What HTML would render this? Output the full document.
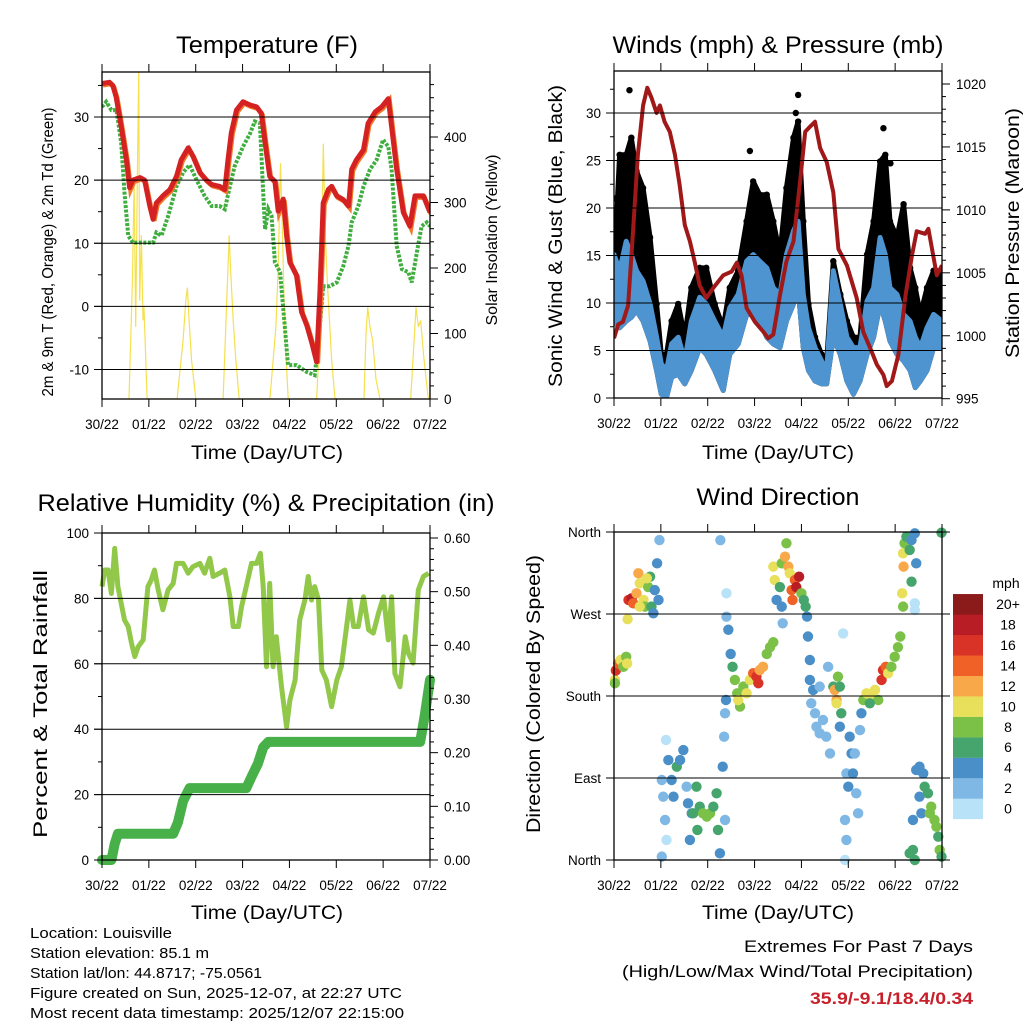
<!DOCTYPE html>
<html><head><meta charset="utf-8"><style>
html,body{margin:0;padding:0;background:#fff;}
svg text{font-family:"Liberation Sans",Arial,sans-serif;fill:#000;}
</style></head><body>
<svg id="chart" xmlns="http://www.w3.org/2000/svg" width="1024" height="1024" viewBox="0 0 1024 1024">
<rect x="0" y="0" width="1024" height="1024" fill="#fff"/>
<text x="267" y="53" font-size="24" text-anchor="middle" textLength="182" lengthAdjust="spacingAndGlyphs">Temperature (F)</text>
<text x="778" y="53" font-size="24" text-anchor="middle" textLength="331" lengthAdjust="spacingAndGlyphs">Winds (mph) &amp; Pressure (mb)</text>
<text x="266" y="511" font-size="24" text-anchor="middle" textLength="457" lengthAdjust="spacingAndGlyphs">Relative Humidity (%) &amp; Precipitation (in)</text>
<text x="778" y="505" font-size="24" text-anchor="middle" textLength="163" lengthAdjust="spacingAndGlyphs">Wind Direction</text>
<text x="267" y="459" font-size="19" text-anchor="middle" textLength="152" lengthAdjust="spacingAndGlyphs">Time (Day/UTC)</text>
<text x="778" y="459" font-size="19" text-anchor="middle" textLength="152" lengthAdjust="spacingAndGlyphs">Time (Day/UTC)</text>
<text x="267" y="919" font-size="19" text-anchor="middle" textLength="152" lengthAdjust="spacingAndGlyphs">Time (Day/UTC)</text>
<text x="778" y="919" font-size="19" text-anchor="middle" textLength="152" lengthAdjust="spacingAndGlyphs">Time (Day/UTC)</text>
<text transform="translate(53,252) rotate(-90)" font-size="16" text-anchor="middle" textLength="289" lengthAdjust="spacingAndGlyphs">2m &amp; 9m T (Red, Orange) &amp; 2m Td (Green)</text>
<text transform="translate(497,240) rotate(-90)" font-size="16" text-anchor="middle" textLength="171" lengthAdjust="spacingAndGlyphs">Solar Insolation (Yellow)</text>
<text transform="translate(562,236) rotate(-90)" font-size="19" text-anchor="middle" textLength="302" lengthAdjust="spacingAndGlyphs">Sonic Wind &amp; Gust (Blue, Black)</text>
<text transform="translate(1019,233) rotate(-90)" font-size="19" text-anchor="middle" textLength="250" lengthAdjust="spacingAndGlyphs">Station Pressure (Maroon)</text>
<text transform="translate(47,704) rotate(-90)" font-size="19" text-anchor="middle" textLength="268" lengthAdjust="spacingAndGlyphs">Percent &amp; Total Rainfall</text>
<text transform="translate(540,694) rotate(-90)" font-size="19" text-anchor="middle" textLength="278" lengthAdjust="spacingAndGlyphs">Direction (Colored By Speed)</text>
<g font-size="15">
<text x="30" y="938" textLength="142" lengthAdjust="spacingAndGlyphs">Location: Louisville</text>
<text x="30" y="958" textLength="179" lengthAdjust="spacingAndGlyphs">Station elevation: 85.1 m</text>
<text x="30" y="978" textLength="232" lengthAdjust="spacingAndGlyphs">Station lat/lon: 44.8717; -75.0561</text>
<text x="30" y="998" textLength="372" lengthAdjust="spacingAndGlyphs">Figure created on Sun, 2025-12-07, at 22:27 UTC</text>
<text x="30" y="1018" textLength="374" lengthAdjust="spacingAndGlyphs">Most recent data timestamp: 2025/12/07 22:15:00</text>
</g>
<text x="973" y="952" font-size="17" text-anchor="end" textLength="229" lengthAdjust="spacingAndGlyphs">Extremes For Past 7 Days</text>
<text x="973" y="977" font-size="17" text-anchor="end" textLength="351" lengthAdjust="spacingAndGlyphs">(High/Low/Max Wind/Total Precipitation)</text>
<text x="973" y="1004" font-size="17" font-weight="bold" text-anchor="end" textLength="163" lengthAdjust="spacingAndGlyphs" style="fill:#c8202a">35.9/-9.1/18.4/0.34</text>
</svg>
<script>
// ===== Data =====
const dayLabels = ["30/22","01/22","02/22","03/22","04/22","05/22","06/22","07/22"];
const tempT = [0,.16,.23,.30,.41,.52,.59,.66,.81,.91,1.02,1.09,1.16,1.30,1.45,1.59,1.69,1.84,1.94,2.09,2.23,2.34,2.51,2.62,2.69,2.76,2.87,3.01,3.16,3.30,3.40,3.48,3.58,3.69,3.76,3.87,3.94,4.01,4.15,4.26,4.37,4.47,4.58,4.65,4.72,4.83,4.90,5.01,5.15,5.26,5.33,5.43,5.58,5.68,5.83,5.97,6.11,6.18,6.29,6.43,6.57,6.68,6.86,7.0];
const temp2m = [35.3,35.5,35,33.2,28.5,23.2,18.8,20,20.4,20,15.9,13.8,16.4,17.5,18.5,20.6,23.2,25.1,23.8,21.2,20,19.3,19,18.5,23.2,27.5,31.1,32.4,31.9,31.6,30.6,25.9,20.6,19.8,15.1,17,11.2,7,4.9,-0.9,-3,-5.6,-8.8,2.2,16.4,18.5,19,17.5,16.9,15.9,21.7,23.2,24.8,29,30.8,31.6,32.9,28.5,21.7,14.9,12.7,17.5,17.5,14.9];
const dewT = [0,.09,.20,.31,.41,.48,.56,.66,.88,1.09,1.16,1.27,1.41,1.59,1.73,1.87,2.02,2.19,2.34,2.51,2.62,2.73,2.83,3.01,3.16,3.26,3.37,3.44,3.48,3.55,3.62,3.69,3.80,3.90,3.97,4.15,4.37,4.54,4.62,4.72,4.86,5.01,5.15,5.26,5.33,5.47,5.58,5.72,5.86,6.00,6.11,6.18,6.29,6.40,6.54,6.61,6.72,6.82,6.93,7.0];
const dewVals = [31.6,32.4,31.1,31.1,25.9,18,11.2,10.1,10.1,10.1,11.7,11.2,14.3,19,21.2,22.4,20,17.5,15.9,15.9,15.4,19,22.2,25.3,27.4,29.3,29,18,12.2,15.4,14.3,7,5.4,-3,-9.3,-9.3,-10.4,-10.9,-5.6,3.2,3.2,3.8,6.4,9.6,13.3,15.9,19,21.7,23.2,26.4,25.3,21.7,9.6,5.9,5.4,3.8,8.6,12.7,13.3,12.7];
const solarT = [.577,.648,.684,.719,.755,.783,.805,.840,.876,.897,.962, 1.603,1.731,1.788,1.823,1.859,1.909,2.001, 2.585,2.657,2.714,2.742,2.799,2.856,2.927, 3.583,3.711,3.761,3.810,3.853,3.903,3.974, 4.580,4.665,4.722,4.765,4.808,4.900,4.972, 5.591,5.634,5.670,5.719,5.776,5.848,5.933, 6.588,6.702,6.752,6.802,6.859,6.916,6.966];
const solarVals = [0,180,330,110,345,500,150,250,120,140,0, 0,90,150,170,120,60,0, 0,140,250,200,120,60,0, 0,110,200,360,250,100,0, 0,120,390,250,180,60,0, 0,100,140,110,90,30,0, 0,140,110,120,70,30,0];
const windT = [0,.12,.26,.37,.48,.62,.77,.91,1.01,1.12,1.23,1.37,1.51,1.65,1.83,1.97,2.15,2.33,2.47,2.65,2.83,2.97,3.11,3.26,3.40,3.54,3.68,3.83,3.93,4.04,4.15,4.29,4.43,4.54,4.68,4.83,4.97,5.11,5.25,5.40,5.54,5.68,5.79,5.89,6.04,6.18,6.32,6.43,6.54,6.68,6.82,7.0];
const gustVals = [13.4,25.6,25.6,27.4,23.9,22.1,16.9,9.9,4.6,4.6,8.1,9.9,6.4,11.6,13.7,13.7,9.9,7.4,11.6,13.4,18.6,22.8,21.4,21.4,18.6,15.1,22.1,27.4,29.1,18.6,9.9,6.4,4.6,3.9,14.4,10.9,8.1,6.4,6.4,15.1,18.6,24.9,25.6,18.6,16.9,20.4,13.7,11.6,8.8,11.6,13.4,13.4];
const speedHi = [15.1,13.4,16.5,15.1,13.4,12.3,9.9,6.4,3.6,2.9,5.7,6.4,3.9,8.1,10.6,9.9,8.1,6.4,9.5,10.9,14.4,15.1,14.4,13.7,11.6,10.9,15.1,17.6,18.6,10.9,7.4,5.3,3.9,2.9,13.4,9.9,6.4,5.3,5.3,10.2,11.6,16.9,15.1,11.6,10.9,8.8,8.1,6.4,5.3,7.4,8.8,8.1];
const speedLo = [8.1,7.4,8.1,8.5,9.2,8.1,6.0,2.9,0.4,0.1,2.2,2.5,1.5,2.9,5.3,4.6,2.9,0.8,4.6,5.7,8.8,8.8,8.1,6.4,5.7,5.3,8.1,9.9,11.6,5.3,2.9,1.8,1.5,1.5,6.4,4.6,1.8,0.4,1.8,4.6,6.4,9.9,8.1,6.0,4.6,3.9,2.9,1.1,1.8,2.9,5.3,5.3];
const gustPeakT = [0.02,0.15,0.33,0.45,1.9,2.9,3.93,3.88,5.75,5.9,6.16];
const gustPeakVals = [21,24,32.4,22,13,26,31.9,30,28.4,24.7,17];
const presT = [0,.09,.19,.30,.41,.51,.62,.71,.80,.91,.98,1.08,1.19,1.30,1.40,1.51,1.62,1.72,1.83,1.97,2.12,2.33,2.51,2.62,2.72,2.83,3.01,3.19,3.29,3.40,3.54,3.68,3.83,3.97,4.08,4.18,4.29,4.40,4.54,4.68,4.79,4.97,5.18,5.32,5.47,5.61,5.75,5.82,5.93,6.07,6.22,6.36,6.46,6.64,6.71,6.82,6.89,7.0];
const presVals = [999.8,1000.9,1001.1,1002.4,1008.5,1014.4,1018.3,1019.7,1018.9,1017.7,1018.3,1017,1016.2,1014.4,1012,1008.8,1007.5,1005.9,1004,1003,1003.8,1004.8,1005.1,1005.8,1004.8,1002.2,1001.1,1000.3,999.8,1000.1,1003.2,1005.9,1007.5,1012.2,1016.2,1016.6,1017,1014.9,1013.8,1011.4,1006.9,1005.6,1003,1000.3,999,997.7,996.9,996,996.4,998.5,1003.2,1006.4,1008.3,1008.1,1008.5,1006.2,1004.8,1005.6];
const rhT = [0,.06,.13,.20,.27,.34,.41,.48,.56,.63,.70,.77,.88,.98,1.05,1.12,1.20,1.30,1.41,1.52,1.59,1.73,1.84,1.94,2.09,2.19,2.30,2.37,2.51,2.62,2.73,2.80,2.91,2.98,3.08,3.19,3.30,3.38,3.44,3.51,3.58,3.65,3.72,3.83,3.94,4.01,4.12,4.22,4.33,4.40,4.47,4.54,4.62,4.69,4.79,4.90,5.01,5.11,5.22,5.29,5.37,5.47,5.58,5.69,5.79,5.90,6.01,6.11,6.18,6.25,6.36,6.47,6.54,6.64,6.75,6.86,6.97];
const rhVals = [83.6,88.7,88.7,81.5,95.3,83.6,78.5,73.4,71.4,66.3,62.2,65.2,67.3,83.6,85.6,88.7,82.6,76.5,82.6,84.6,90.7,90.7,87.7,89.7,90.7,87.7,92.3,86.7,87.7,88.7,80.5,71.4,71.4,77.5,83.7,90.7,90.7,93.8,83.6,59.1,84.6,59.1,68.3,53,40.7,48.9,55,73.4,79.5,86.7,79.5,83.6,79.5,58.1,55,46.9,55,59.1,71.4,79.5,71.4,71.4,80.5,70.4,69.4,75.5,80.5,67.3,80.5,57,53,68.3,63.2,60.2,82.6,86.7,87.7];
const precipT = [0,.20,.27,.34,1.52,1.62,1.73,1.87,3.08,3.19,3.33,3.44,3.55,6.79,6.89,7.0];
const precipVals = [0,0,0.03,0.049,0.049,0.07,0.11,0.134,0.134,0.155,0.18,0.21,0.220,0.220,0.27,0.336];
const dirT = [.02,.04,.09,.14,.20,.26,.28,.02,
 .31,.38,.41,.48,.52,.55,.63,.66,.73,.77,.80,.84,.87,.92,.97,.95,.29,.55,.70,
 1.02,1.05,1.09,1.12,1.16,1.23,1.27,1.34,1.41,1.48,1.11,1.02,
 1.58,1.66,1.69,1.76,1.83,1.90,1.98,2.05,2.12,2.19,2.22,1.55,1.62,1.78,
 2.27,2.26,2.32,2.35,2.37,2.39,2.40,2.40,2.37,
 2.44,2.49,2.53,2.58,2.63,2.69,2.76,2.83,2.90,2.97,3.04,3.11,3.18,3.26,3.33,3.40,2.65,3.08,
 3.40,3.43,3.47,3.54,3.58,3.65,3.68,3.72,3.75,3.79,3.86,3.89,3.95,4.00,4.05,4.09,4.12,3.60,3.58,3.81,
 4.14,4.18,4.18,4.21,4.29,4.32,4.39,4.46,4.53,4.61,4.25,4.39,4.57,4.68,
 4.71,4.75,4.78,4.82,4.85,4.82,4.75,
 4.96,5.00,5.03,5.07,5.10,5.14,5.17,5.21,4.93,4.96,4.93,5.25,4.89,
 5.32,5.39,5.49,5.57,5.64,5.71,5.74,5.80,5.85,5.92,5.99,6.06,6.11,5.28,5.46,
 6.17,6.20,6.24,6.31,6.35,6.42,6.45,6.18,6.15,6.17,6.35,6.42,6.42,
 6.31,6.38,6.42,6.45,6.52,6.56,6.60,6.63,6.70,6.77,6.84,6.88,6.92,6.95,6.99,6.52,6.38,6.74,6.99];
const dirDeg = [197.6,208,215.7,219.5,212,223,215.7,194,
 285.4,287.2,281.7,292.7,314.7,303.7,285.4,278.1,299.6,311,278.1,270.8,296.2,325.6,351.2,285.4,264.3,278.1,309.2,
 87.8,69.5,43.9,22,109.7,87.8,69.5,102.4,109.7,120.7,131.7,3.7,
 62.2,51.2,51.2,80.5,58.5,51.2,47.6,51.2,58.5,73.2,33,80.5,22,33,
 351,7.3,102.4,135.3,44,175.6,292.7,267,161,
 252.7,226.2,212,197.6,183,168.4,190.3,183,197.6,205,201.2,208.4,212,226.2,233.6,239,175.6,194,
 322,307.3,285.4,299.6,325.6,332.9,347.6,322,314.7,296.2,307.3,299.6,311,292.7,285.4,278.1,267.2,259.8,278.1,285.4,
 245.3,219.5,197.6,172,161,146.3,139,153.7,135.3,117,186.7,190.3,212,190.3,
 186.7,175.6,201.2,190.3,161,146.3,172,
 95,80.5,135.3,117,95,117,73.2,51.2,44,22,0,142.6,248.7,
 175.6,183,179.4,186.7,175.6,197.6,208.4,212,205,212,223,233.6,245.3,161,172,
 336.6,347.6,354.9,340.3,351.2,358.5,325.6,322,292.7,278.1,305.5,281.7,274.4,
 7.3,11,0,98.8,69.5,51.2,95,80.5,73.2,58.5,44,36.6,25.6,11,3.7,102.4,44,51.2,359.2];
const dirSpd = [10,16,14,10,8,8,10,8,
 16,18,14,12,12,10,10,8,8,6,6,4,4,4,2,4,10,10,10,
 2,2,2,0,4,4,4,6,4,4,0,2,
 4,4,6,6,6,8,8,8,6,6,6,2,4,6,
 2,4,4,2,2,4,0,2,2,
 4,4,6,8,8,8,8,10,10,14,16,12,12,8,8,8,10,16,
 10,10,4,6,8,12,8,12,10,14,14,18,18,8,6,6,4,2,4,14,
 4,4,4,2,2,2,2,2,2,2,4,2,2,6,
 12,12,8,6,6,4,10,
 2,4,4,4,4,2,2,2,2,2,0,2,0,
 8,10,10,10,8,16,16,14,10,8,8,8,8,4,6,
 10,8,6,6,4,4,4,12,10,8,6,0,0,
 6,6,6,4,4,4,4,6,6,8,8,8,6,8,6,4,4,8,6];
const spdColors = ["#b8e2f7","#7fb8e4","#4a8fc8","#46a56d","#7bc148","#e8e05a","#f8a848","#f06128","#d93328","#b81c24","#8b1a1a"];
const cbarLabels = ["0","2","4","6","8","10","12","14","16","18","20+"];

// ===== Helpers =====
const NS = "http://www.w3.org/2000/svg";
const svg = document.getElementById('chart');
function mk(tag, attrs, name, parent){
  const el = document.createElementNS(NS, tag);
  for (const k in attrs) el.setAttribute(k, attrs[k]);
  
  
  (parent || svg).appendChild(el);
  return el;
}
function scale(d0,d1,r0,r1){ return v => r0 + (v-d0)/(d1-d0)*(r1-r0); }
function path(xs, ys, fx, fy){ return xs.map((t,i)=> (i?'L':'M') + fx(t).toFixed(1) + ',' + fy(ys[i]).toFixed(1)).join(''); }

function panel(p){
  const g = mk('g', {}, p.name + '-axes');
  p.grid.forEach(v => {
    const y = p.yl(v);
    mk('line', {x1:p.x0-8, x2:p.x1 + (p.gridRight||0), y1:y, y2:y, stroke:'#000', 'stroke-width':1}, p.name+'-gridline', g);
  });
  mk('rect', {x:p.x0, y:p.y0, width:p.x1-p.x0, height:p.y1-p.y0, fill:'none', stroke:'#000', 'stroke-width':1.3}, p.name+'-frame', g);
  const fx = scale(0,7,p.x0,p.x1);
  dayLabels.forEach((lab,i) => {
    const x = fx(i);
    mk('line', {x1:x, x2:x, y1:p.y1, y2:p.y1+8, stroke:'#000','stroke-width':1}, p.name+'-x-tick', g);
    mk('line', {x1:x, x2:x, y1:p.y0, y2:p.y0-8, stroke:'#000','stroke-width':1}, p.name+'-top-tick', g);
    const t = mk('text', {x:x, y:p.y1+30, 'font-size':13.5, 'text-anchor':'middle'}, p.name+'-x-tick-label', g);
    t.textContent = lab;
  });
  p.lMajor.forEach(v => {
    const y = p.yl(v);
    mk('line', {x1:p.x0-8, x2:p.x0, y1:y, y2:y, stroke:'#000','stroke-width':1}, p.name+'-y-tick', g);
    const t = mk('text', {x:p.x0-13, y:y+5, 'font-size':13.5, 'text-anchor':'end'}, p.name+'-y-tick-label', g);
    t.textContent = p.lFmt ? p.lFmt(v) : v;
  });
  (p.lMinor||[]).forEach(v => {
    const y = p.yl(v);
    mk('line', {x1:p.x0-4, x2:p.x0, y1:y, y2:y, stroke:'#000','stroke-width':1}, p.name+'-y-minor-tick', g);
  });
  if (p.yr) {
    p.rMajor.forEach(v => {
      const y = p.yr(v);
      mk('line', {x1:p.x1, x2:p.x1+8, y1:y, y2:y, stroke:'#000','stroke-width':1}, p.name+'-right-tick', g);
      const t = mk('text', {x:p.x1+14, y:y+5, 'font-size':13.5, 'text-anchor':'start'}, p.name+'-right-tick-label', g);
      t.textContent = p.rFmt ? p.rFmt(v) : v;
    });
    (p.rMinor||[]).forEach(v => {
      const y = p.yr(v);
      mk('line', {x1:p.x1, x2:p.x1+4, y1:y, y2:y, stroke:'#000','stroke-width':1}, p.name+'-right-minor-tick', g);
    });
  }
  return fx;
}
function range(a,b,s){ const r=[]; for(let v=a; v<=b+1e-9; v+=s) r.push(+v.toFixed(4)); return r; }

// ===== Temperature panel =====
(function(){
  const x0=102,x1=430,y0=72,y1=399;
  const yl = scale(-10,30,369.5,117);
  const yr = scale(0,400,399,137);
  const fx = scale(0,7,x0,x1);
  const clip = mk('clipPath', {id:'clipT'}, 'temp-clip');
  mk('rect', {x:x0,y:y0,width:x1-x0,height:y1-y0}, 'temp-clip-rect', clip);
  const g = mk('g', {'clip-path':'url(#clipT)'}, 'temp-series');
  mk('path', {d:path(solarT, solarVals, fx, yr), fill:'none', stroke:'#f5e050','stroke-width':1.2}, 'solar-line', g);
  mk('path', {d:path(dewT, dewVals, fx, yl), fill:'none', stroke:'#3fae3f','stroke-width':4,'stroke-dasharray':'3 1.5'}, 'dewpoint-line', g);
  mk('path', {d:path(tempT, temp2m, t=>fx(t)+1, v=>yl(v)+1.5), fill:'none', stroke:'#f2782a','stroke-width':5}, 'temp-9m-line', g);
  mk('path', {d:path(tempT, temp2m, fx, yl), fill:'none', stroke:'#d42222','stroke-width':5,'stroke-linejoin':'round'}, 'temp-2m-line', g);
  panel({name:'temp', x0,x1,y0,y1, yl, yr, grid:[-10,0,10,20,30], lMajor:[-10,0,10,20,30], lMinor:[-5,5,15,25,35],
    rMajor:[0,100,200,300,400], rMinor:range(20,480,20).filter(v=>v%100)});
})();

// ===== Winds panel =====
(function(){
  const x0=614,x1=942,y0=71,y1=398;
  const yl = scale(0,30,398,113);
  const yr = scale(995,1020,398.7,84);
  const fx = scale(0,7,x0,x1);
  const clip = mk('clipPath', {id:'clipW'}, 'winds-clip');
  mk('rect', {x:x0,y:y0,width:x1-x0,height:y1-y0}, 'winds-clip-rect', clip);
  const g = mk('g', {'clip-path':'url(#clipW)'}, 'winds-series');
  const band = (hi, lo) => path(windT, hi, fx, yl) + path(windT.slice().reverse(), lo.slice().reverse(), fx, yl).replace('M','L') + 'Z';
  mk('path', {d:band(gustVals, speedLo), fill:'#000', stroke:'#000','stroke-width':5,'stroke-linejoin':'round'}, 'gust-scatter-band', g);
  windT.forEach((t,i) => {
    mk('circle', {cx:fx(t), cy:yl(gustVals[i]), r:3.2, fill:'#000'}, 'gust-point', g);
  });
  gustPeakT.forEach((t,i) => {
    mk('circle', {cx:fx(t), cy:yl(gustPeakVals[i]), r:3.2, fill:'#000'}, 'gust-peak-point', g);
  });
  mk('path', {d:band(speedHi, speedLo), fill:'#4d94d0', stroke:'#4d94d0','stroke-width':5,'stroke-linejoin':'round'}, 'wind-speed-band', g);
  mk('path', {d:path(presT, presVals, fx, yr), fill:'none', stroke:'#a01818','stroke-width':4,'stroke-linejoin':'round'}, 'pressure-line', g);
  panel({name:'winds', x0,x1,y0,y1, yl, yr, grid:[5,10,15,20,25,30], lMajor:[0,5,10,15,20,25,30], lMinor:range(2.5,32.5,5),
    rMajor:[995,1000,1005,1010,1015,1020], rMinor:range(996,1020,1).filter(v=>v%5)});
})();

// ===== Humidity panel =====
(function(){
  const x0=102,x1=430,y0=533,y1=860;
  const yl = scale(0,100,860,533);
  const yr = scale(0,0.6,860,538);
  const fx = scale(0,7,x0,x1);
  const clip = mk('clipPath', {id:'clipR'}, 'humidity-clip');
  mk('rect', {x:x0-6,y:y0,width:x1-x0+12,height:y1-y0+6}, 'humidity-clip-rect', clip);
  const g = mk('g', {'clip-path':'url(#clipR)'}, 'humidity-series');
  mk('path', {d:path(rhT, rhVals, fx, yl), fill:'none', stroke:'#92c84a','stroke-width':5,'stroke-linejoin':'round'}, 'humidity-line', g);
  mk('path', {d:path(precipT, precipVals, fx, yr), fill:'none', stroke:'#48b048','stroke-width':10,'stroke-linejoin':'round','stroke-linecap':'round'}, 'precipitation-line', g);
  panel({name:'humidity', x0,x1,y0,y1, yl, yr, grid:[20,40,60,80], lMajor:[0,20,40,60,80,100], lMinor:[10,30,50,70,90],
    rMajor:[0,0.1,0.2,0.3,0.4,0.5,0.6], rFmt:v=>v.toFixed(2), rMinor:range(0.02,0.58,0.02).filter(v=>Math.round(v*100)%10)});
})();

// ===== Wind direction panel =====
(function(){
  const x0=614,x1=942,y0=532,y1=860;
  const yl = scale(0,360,860,532);
  const fx = scale(0,7,x0,x1);
  const g = mk('g', {}, 'direction-series');
  dirT.forEach((t,i) => {
    const ci = Math.min(10, Math.round(dirSpd[i]/2));
    mk('circle', {cx:fx(t), cy:yl(dirDeg[i]), r:5.2, fill:spdColors[ci]}, 'direction-point', g);
  });
  const names = ['North','East','South','West','North'];
  panel({name:'direction', x0,x1,y0,y1, yl, grid:[0,90,180,270,360], gridRight:8, lMajor:[0,90,180,270,360], lFmt:v=>names[v/90]});
  const cb = mk('g', {}, 'speed-colorbar');
  spdColors.forEach((c,i) => {
    const y = 819 - (i+1)*20.45;
    mk('rect', {x:953, y:y, width:30, height:20.6, fill:c}, 'colorbar-box', cb);
    const t = mk('text', {x:1008, y:y+15, 'font-size':14, 'text-anchor':'middle'}, 'colorbar-label', cb);
    t.textContent = cbarLabels[i];
  });
  const m = mk('text', {x:1006, y:588, 'font-size':14, 'text-anchor':'middle'}, 'colorbar-title', cb);
  m.textContent = 'mph';
})();
</script>
</body></html>
